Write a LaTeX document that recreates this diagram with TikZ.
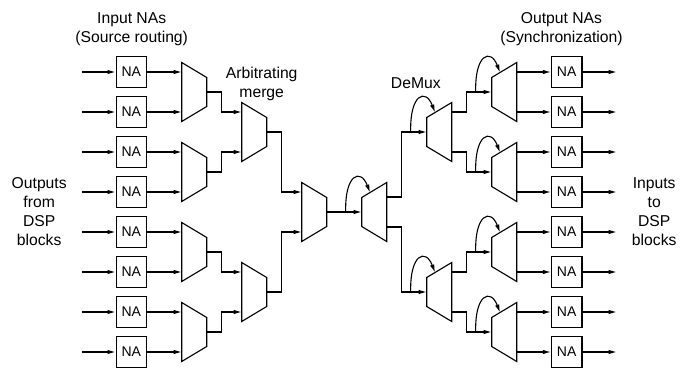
\documentclass[tikz,border=0pt]{standalone}
\usepackage{fontspec}
\setmainfont{Liberation Sans}
\usetikzlibrary{positioning}
\usetikzlibrary{calc}
\usetikzlibrary{arrows.meta}

\tikzset{
	na/.style={draw, minimum width=30.5pt, minimum height=30.5pt, inner sep=0pt, font=\fontsize{14}{16}\selectfont},
	mux/.style={minimum width=25pt, minimum height=59pt, inner sep=0pt, outer sep=0pt},
	txt/.style={anchor=north, inner sep=0pt, align=center, font=\fontsize{15.7}{19}\selectfont},
	wire/.style={-{Latex[length=8pt,width=4.5pt]}}
}

% merge: long side left, short side right
\newcommand{\muxshape}[1]{\draw (#1.north west) -- ($(#1.east)+(0,-14.5)$) -- ($(#1.east)+(0,14.5)$) -- (#1.south west) -- cycle;}
% demux: short side left, long side right
\newcommand{\demuxshape}[1]{\draw ($(#1.west)+(0,-14.5)$) -- (#1.north east) -- (#1.south east) -- ($(#1.west)+(0,14.5)$) -- cycle;}
% loop from the input wire onto the upper edge
\newcommand{\feedback}[1]{\draw[wire] ($(#1.west)+(-16,0)$) .. controls ($(#1.west)+(-17,-38)$) and ($(#1.west)+(-1,-44)$) .. ($(#1.west)+(8.3,-19.5)$);}

\begin{document}
\begin{tikzpicture}[x=1pt, y=-1pt, line width=1.1pt]
	\useasboundingbox (0,0) rectangle (691,369);

	%%% Input NAs %%%

	\node[na] (nai1) at (131.3,72) {NA};
	\node[na] (nai2) at (131.3,112) {NA};
	\node[na] (nai3) at (131.3,152) {NA};
	\node[na] (nai4) at (131.3,192) {NA};
	\node[na] (nai5) at (131.3,232) {NA};
	\node[na] (nai6) at (131.3,272) {NA};
	\node[na] (nai7) at (131.3,312) {NA};
	\node[na] (nai8) at (131.3,352) {NA};

	\coordinate (src1) at (81.7,72);
	\coordinate (src2) at (81.7,112);
	\coordinate (src3) at (81.7,152);
	\coordinate (src4) at (81.7,192);
	\coordinate (src5) at (81.7,232);
	\coordinate (src6) at (81.7,272);
	\coordinate (src7) at (81.7,312);
	\coordinate (src8) at (81.7,352);

	\path[wire] (src1) edge (nai1);
	\path[wire] (src2) edge (nai2);
	\path[wire] (src3) edge (nai3);
	\path[wire] (src4) edge (nai4);
	\path[wire] (src5) edge (nai5);
	\path[wire] (src6) edge (nai6);
	\path[wire] (src7) edge (nai7);
	\path[wire] (src8) edge (nai8);

	\node[txt] (intitle) at (131.7,11.7) {Input NAs\\(Source routing)};
	\node[txt] (srctitle) at (39.2,176.7) {Outputs\\from\\DSP\\blocks};

	%%% Arbitrating merge %%%

	\node[mux] (la1) at (194.2,92) {};
	\node[mux] (la2) at (194.2,172) {};
	\node[mux] (la3) at (194.2,252) {};
	\node[mux] (la4) at (194.2,332) {};
	\node[mux] (lb1) at (254.2,132) {};
	\node[mux] (lb2) at (254.2,292) {};
	\node[mux] (lc1) at (314.2,212) {};

	\muxshape{la1} \muxshape{la2} \muxshape{la3} \muxshape{la4}
	\muxshape{lb1} \muxshape{lb2}
	\muxshape{lc1}

	\node[txt] (mergetitle) at (261.7,66.5) {Arbitrating\\merge};

	\draw[wire] (nai1) -- (nai1 -| la1.west);
	\draw[wire] (nai2) -- (nai2 -| la1.west);
	\draw[wire] (nai3) -- (nai3 -| la2.west);
	\draw[wire] (nai4) -- (nai4 -| la2.west);
	\draw[wire] (nai5) -- (nai5 -| la3.west);
	\draw[wire] (nai6) -- (nai6 -| la3.west);
	\draw[wire] (nai7) -- (nai7 -| la4.west);
	\draw[wire] (nai8) -- (nai8 -| la4.west);

	\draw[wire] (la1.east) -- ++(15,0) |- ($(lb1.west)+(0,-20)$);
	\draw[wire] (la2.east) -- ++(15,0) |- ($(lb1.west)+(0,20)$);
	\draw[wire] (la3.east) -- ++(15,0) |- ($(lb2.west)+(0,-20)$);
	\draw[wire] (la4.east) -- ++(15,0) |- ($(lb2.west)+(0,20)$);

	\draw[wire] (lb1.east) -- ++(15,0) |- ($(lc1.west)+(0,-20)$);
	\draw[wire] (lb2.east) -- ++(15,0) |- ($(lc1.west)+(0,20)$);

	%%% DeMux %%%

	\node[mux] (rc1) at (374.2,212) {};
	\node[mux] (rb1) at (439.2,132) {};
	\node[mux] (rb2) at (439.2,292) {};
	\node[mux] (ra1) at (504.2,92) {};
	\node[mux] (ra2) at (504.2,172) {};
	\node[mux] (ra3) at (504.2,252) {};
	\node[mux] (ra4) at (504.2,332) {};

	\demuxshape{rc1}
	\demuxshape{rb1} \demuxshape{rb2}
	\demuxshape{ra1} \demuxshape{ra2} \demuxshape{ra3} \demuxshape{ra4}

	\node[txt] (demuxtitle) at (415.8,76.7) {DeMux};

	\draw[wire] (lc1.east) -- (rc1.west);

	\draw[wire] ($(rc1.east)+(0,-15)$) -- ++(15,0) |- (rb1.west);
	\draw[wire] ($(rc1.east)+(0,15)$) -- ++(15,0) |- (rb2.west);

	\draw[wire] ($(rb1.east)+(0,-20)$) -- ++(15,0) |- (ra1.west);
	\draw[wire] ($(rb1.east)+(0,20)$) -- ++(15,0) |- (ra2.west);
	\draw[wire] ($(rb2.east)+(0,-20)$) -- ++(15,0) |- (ra3.west);
	\draw[wire] ($(rb2.east)+(0,20)$) -- ++(15,0) |- (ra4.west);

	\feedback{rc1}
	\feedback{rb1} \feedback{rb2}
	\feedback{ra1} \feedback{ra2} \feedback{ra3} \feedback{ra4}

	%%% Output NAs %%%

	\node[na] (nao1) at (566.7,72) {NA};
	\node[na] (nao2) at (566.7,112) {NA};
	\node[na] (nao3) at (566.7,152) {NA};
	\node[na] (nao4) at (566.7,192) {NA};
	\node[na] (nao5) at (566.7,232) {NA};
	\node[na] (nao6) at (566.7,272) {NA};
	\node[na] (nao7) at (566.7,312) {NA};
	\node[na] (nao8) at (566.7,352) {NA};

	\draw[wire] ($(ra1.east)+(0,-20)$) -- (nao1);
	\draw[wire] ($(ra1.east)+(0,20)$) -- (nao2);
	\draw[wire] ($(ra2.east)+(0,-20)$) -- (nao3);
	\draw[wire] ($(ra2.east)+(0,20)$) -- (nao4);
	\draw[wire] ($(ra3.east)+(0,-20)$) -- (nao5);
	\draw[wire] ($(ra3.east)+(0,20)$) -- (nao6);
	\draw[wire] ($(ra4.east)+(0,-20)$) -- (nao7);
	\draw[wire] ($(ra4.east)+(0,20)$) -- (nao8);

	\coordinate (dst1) at (616.7,72);
	\coordinate (dst2) at (616.7,112);
	\coordinate (dst3) at (616.7,152);
	\coordinate (dst4) at (616.7,192);
	\coordinate (dst5) at (616.7,232);
	\coordinate (dst6) at (616.7,272);
	\coordinate (dst7) at (616.7,312);
	\coordinate (dst8) at (616.7,352);

	\path[wire] (nao1) edge (dst1);
	\path[wire] (nao2) edge (dst2);
	\path[wire] (nao3) edge (dst3);
	\path[wire] (nao4) edge (dst4);
	\path[wire] (nao5) edge (dst5);
	\path[wire] (nao6) edge (dst6);
	\path[wire] (nao7) edge (dst7);
	\path[wire] (nao8) edge (dst8);

	\node[txt] (outtitle) at (561.5,11.7) {Output NAs\\(Synchronization)};
	\node[txt] (dsttitle) at (654.2,176.7) {Inputs\\to\\DSP\\blocks};

\end{tikzpicture}
\end{document}
